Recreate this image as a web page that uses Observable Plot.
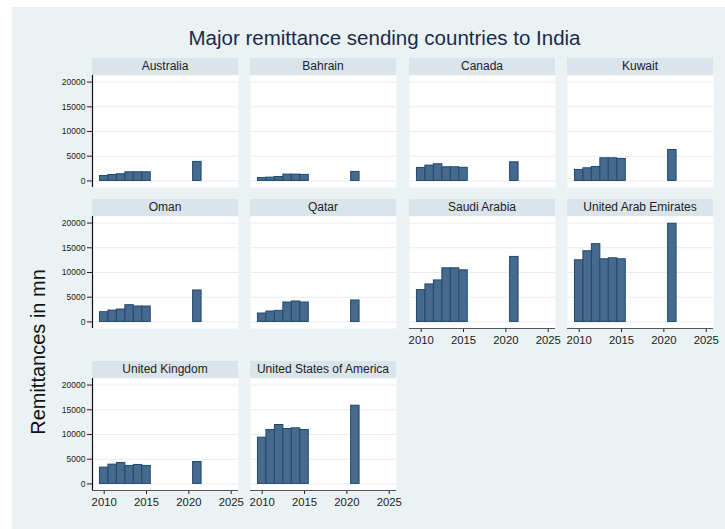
<!DOCTYPE html>
<html>
<head>
<meta charset="utf-8">
<script src="https://cdn.jsdelivr.net/npm/d3@7"></script>
<script src="https://cdn.jsdelivr.net/npm/@observablehq/plot@0.6"></script>
<style>
  html, body { margin: 0; padding: 0; background: #ffffff; }
  #root { position: relative; width: 725px; height: 529px; overflow: hidden; font-family: "Liberation Sans", Arial, sans-serif; }
  #bg { position: absolute; left: 12px; top: 7px; width: 713px; height: 522px; background: #eaf2f3; }
  #title { position: absolute; left: 0; width: 769px; top: 26px; text-align: center; font-size: 20.5px; line-height: 24px; color: #1c2a4d; }
  #ylab { position: absolute; left: 38px; top: 352px; transform: translate(-50%, -50%) rotate(-90deg); font-size: 20px; color: #111; white-space: nowrap; }
  .strip { position: absolute; height: 17px; background: #d9e5eb; font-size: 12px; color: #222; text-align: center; line-height: 17px; }
  .panel { position: absolute; }
  .panel svg { overflow: visible; max-width: none !important; display: block; }
</style>
</head>
<body>
<div id="root">
  <div id="bg"></div>
  <div id="title">Major remittance sending countries to India</div>
  <div id="ylab">Remittances in mn</div>
</div>
<script>
// ---- data ----
const years = [2010, 2011, 2012, 2013, 2014, 2015, 2021];
const countries = ["Australia", "Bahrain", "Canada", "Kuwait", "Oman", "Qatar",
  "Saudi Arabia", "United Arab Emirates", "United Kingdom", "United States of America"];
const australia = [1000, 1200, 1350, 1750, 1750, 1750, 3850];
const bahrain   = [600, 670, 800, 1280, 1280, 1220, 1820];
const canada    = [2630, 3100, 3370, 2760, 2760, 2650, 3770];
const kuwait    = [2220, 2560, 2830, 4580, 4580, 4450, 6260];
const oman      = [1970, 2300, 2510, 3390, 3120, 3120, 6370];
const qatar     = [1700, 2100, 2240, 3930, 4140, 3930, 4340];
const saudi     = [6440, 7590, 8400, 10850, 10850, 10440, 13150];
const uae       = [12470, 14300, 15730, 12680, 12880, 12680, 19860];
const uk        = [3300, 3900, 4240, 3640, 3840, 3640, 4440];
const usa       = [9360, 10910, 11920, 11110, 11250, 10910, 15820];
const seriesValues = [australia, bahrain, canada, kuwait, oman, qatar, saudi, uae, uk, usa];
const yTicks = [0, 5000, 10000, 15000, 20000];
const xTicks = [2010, 2015, 2020, 2025];

// ---- layout ----
const colLeft = [92, 250, 409, 567];
const stripTop = [58, 199, 361];
const panelW = 146, stripH = 17, plotH = 112;
const xDomain = [2008.62, 2025.86];
const yDomain = [-1330, 21330];

const root = document.getElementById("root");

countries.forEach((name, i) => {
  const row = Math.floor(i / 4), col = i % 4;
  const data = years.map((yr, j) => ({year: yr, value: seriesValues[i][j]}));
  const hasY = col === 0;
  // x axis on the bottom panel of each column
  const hasX = (i + 4) >= countries.length;
  const mL = hasY ? 70 : 0, mR = 16, mB = hasX ? 30 : 0;

  const strip = document.createElement("div");
  strip.className = "strip";
  strip.style.left = colLeft[col] + "px";
  strip.style.top = stripTop[row] + "px";
  strip.style.width = panelW + "px";
  strip.textContent = name;
  root.appendChild(strip);

  const marks = [
    Plot.frame({fill: "white", stroke: null}),
    Plot.ruleY(yTicks, {stroke: "#e6eef1", strokeWidth: 1}),
    Plot.rectY(data, {x1: d => d.year - 0.5, x2: d => d.year + 0.5, y: "value",
      fill: "#476a8c", stroke: "#1d4a72", strokeWidth: 1})
  ];
  if (hasY) {
    marks.push(Plot.axisY({ticks: yTicks, tickSize: 5, tickPadding: 2, fontSize: 8.5,
      tickFormat: d => String(d), color: "#222"}));
    marks.push(Plot.ruleX([xDomain[0]], {stroke: "#111", strokeWidth: 1.2}));
  } else {
    marks.push(Plot.axisY({ticks: []}));
  }
  if (hasX) {
    marks.push(Plot.axisX({ticks: xTicks, tickSize: 4, tickPadding: 3, fontSize: 11.3,
      tickFormat: d => String(d), color: "#222"}));
    marks.push(Plot.ruleY([yDomain[0]], {stroke: "#555", strokeWidth: 1.2}));
  } else {
    marks.push(Plot.axisX({ticks: []}));
  }

  const svg = Plot.plot({
    width: panelW + mL + mR,
    height: plotH + mB,
    marginTop: 0, marginBottom: mB, marginLeft: mL, marginRight: mR,
    style: {background: "transparent", fontFamily: "Liberation Sans, Arial, sans-serif", maxWidth: "none"},
    x: {domain: xDomain, label: null},
    y: {domain: yDomain, label: null},
    marks
  });
  const wrap = document.createElement("div");
  wrap.className = "panel";
  wrap.style.left = (colLeft[col] - mL) + "px";
  wrap.style.top = (stripTop[row] + stripH) + "px";
  wrap.style.width = (panelW + mL + mR) + "px";
  wrap.appendChild(svg);
  root.appendChild(wrap);
});
</script>
</body>
</html>
